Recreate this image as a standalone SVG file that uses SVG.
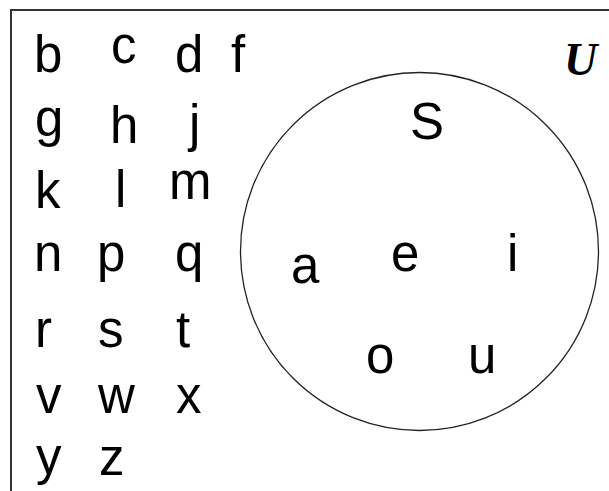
<svg xmlns="http://www.w3.org/2000/svg" width="609" height="491" viewBox="0 0 609 491">
<style>
.l{font-family:"Liberation Sans",Arial,sans-serif;font-size:51px;fill:#000}
.u{font-family:"Liberation Serif","Times New Roman",serif;font-size:46px;font-style:italic;font-weight:bold;fill:#000}
</style>
<rect width="609" height="491" fill="#fff"/>
<g id="universe">
<path d="M11,491 V10 H609" fill="none" stroke="#333" stroke-width="2"/>
<text class="u" x="564" y="75">U</text>
</g>
<g id="outside">
<text class="l" x="34" y="72">b</text>
<text class="l" x="111" y="63">c</text>
<text class="l" x="175" y="72">d</text>
<text class="l" x="231" y="72">f</text>
<text class="l" x="35" y="136">g</text>
<text class="l" x="110" y="143">h</text>
<text class="l" x="189" y="141">j</text>
<text class="l" x="35" y="208">k</text>
<text class="l" x="115" y="207">l</text>
<text class="l" x="169" y="199">m</text>
<text class="l" x="34" y="271">n</text>
<text class="l" x="97" y="271">p</text>
<text class="l" x="175" y="271">q</text>
<text class="l" x="35" y="347">r</text>
<text class="l" x="98" y="347">s</text>
<text class="l" x="176" y="347">t</text>
<text class="l" x="36" y="413">v</text>
<text class="l" x="98" y="413">w</text>
<text class="l" x="176" y="413">x</text>
<text class="l" x="36" y="474">y</text>
<text class="l" x="99" y="475">z</text>
</g>
<g id="setS">
<circle cx="419.5" cy="251.5" r="179" fill="none" stroke="#222" stroke-width="1.3"/>
<text class="l" x="410" y="139">S</text>
<text class="l" x="291" y="283">a</text>
<text class="l" x="391" y="271">e</text>
<text class="l" x="507" y="271">i</text>
<text class="l" x="366" y="373">o</text>
<text class="l" x="468" y="373">u</text>
</g>
</svg>
